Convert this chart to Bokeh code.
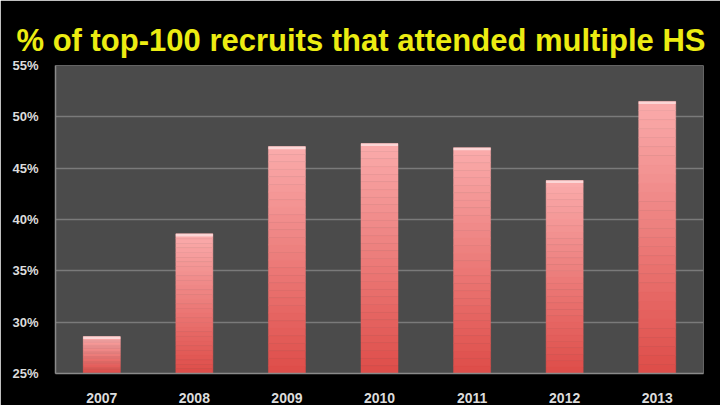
from bokeh.plotting import figure
from bokeh.models import ColumnDataSource, FixedTicker, PrintfTickFormatter, Range1d
from bokeh.embed import file_html
from bokeh.resources import INLINE

years = ["2007", "2008", "2009", "2010", "2011", "2012", "2013"]
pct = [28.6, 38.6, 47.1, 47.4, 47.0, 43.8, 51.5]
y_ticks = [25, 30, 35, 40, 45, 50, 55]
title_text = "% of top-100 recruits that attended multiple HS"

BASE = 25
N = 30
bottom_rgb = (222, 78, 74)
top_rgb = (250, 170, 170)

p = figure(x_range=years, y_range=Range1d(25, 55), width=720, height=405,
           output_backend="svg", toolbar_location=None,
           background_fill_color="#4b4b4b", border_fill_color="#000000",
           min_border_left=55, min_border_right=17, min_border_bottom=30,
           min_border_top=65, outline_line_color=None)

p.title.text = title_text
p.title.text_color = "#ecec12"
p.title.text_font = "Liberation Sans"
p.title.text_font_style = "bold"
p.title.text_font_size = "31px"
p.title.align = "left"
p.title.offset = -39
p.title.standoff = 16

# gradient bars built from data slices
xs, bots, tops, cols = [], [], [], []
for yr, v in zip(years, pct):
    h = v - BASE
    for i in range(N):
        t = i / (N - 1)
        c = tuple(int(round(bottom_rgb[k] + (top_rgb[k] - bottom_rgb[k]) * t)) for k in range(3))
        xs.append(yr)
        bots.append(BASE + h * i / N)
        tops.append(BASE + h * (i + 1) / N)
        cols.append("#%02x%02x%02x" % c)
src = ColumnDataSource(dict(x=xs, bottom=bots, top=tops, color=cols))
p.vbar(x="x", bottom="bottom", top="top", width=0.4, fill_color="color",
       line_color="color", line_width=0.5, source=src)

# thin highlight at top of each bar
hl = ColumnDataSource(dict(x=years, top=pct, bottom=[v - 0.25 for v in pct]))
p.vbar(x="x", bottom="bottom", top="top", width=0.4, fill_color="#fcd6d6",
       line_color=None, source=hl)

p.yaxis.ticker = FixedTicker(ticks=y_ticks)
p.yaxis.formatter = PrintfTickFormatter(format="%d%%")
p.ygrid.grid_line_color = "#7a7a7a"
p.ygrid.grid_line_width = 1.5
p.xgrid.grid_line_color = None

for ax in (p.xaxis, p.yaxis):
    ax.axis_line_color = "#8a8a8a"
    ax.axis_line_width = 1.5
    ax.major_tick_line_color = None
    ax.minor_tick_line_color = None
    ax.major_label_text_color = "#dcdcdc"
    ax.major_label_text_font = "Liberation Sans"
    ax.major_label_text_font_style = "bold"

p.yaxis.major_label_text_font_size = "13px"
p.yaxis.major_label_standoff = 11
p.xaxis.major_label_text_font_size = "14px"
p.xaxis.major_label_standoff = 13

html = file_html(p, INLINE)
html = html.replace("<body>", '<body style="background:#000000;margin:0">', 1)
open("out.html", "w").write(html)
